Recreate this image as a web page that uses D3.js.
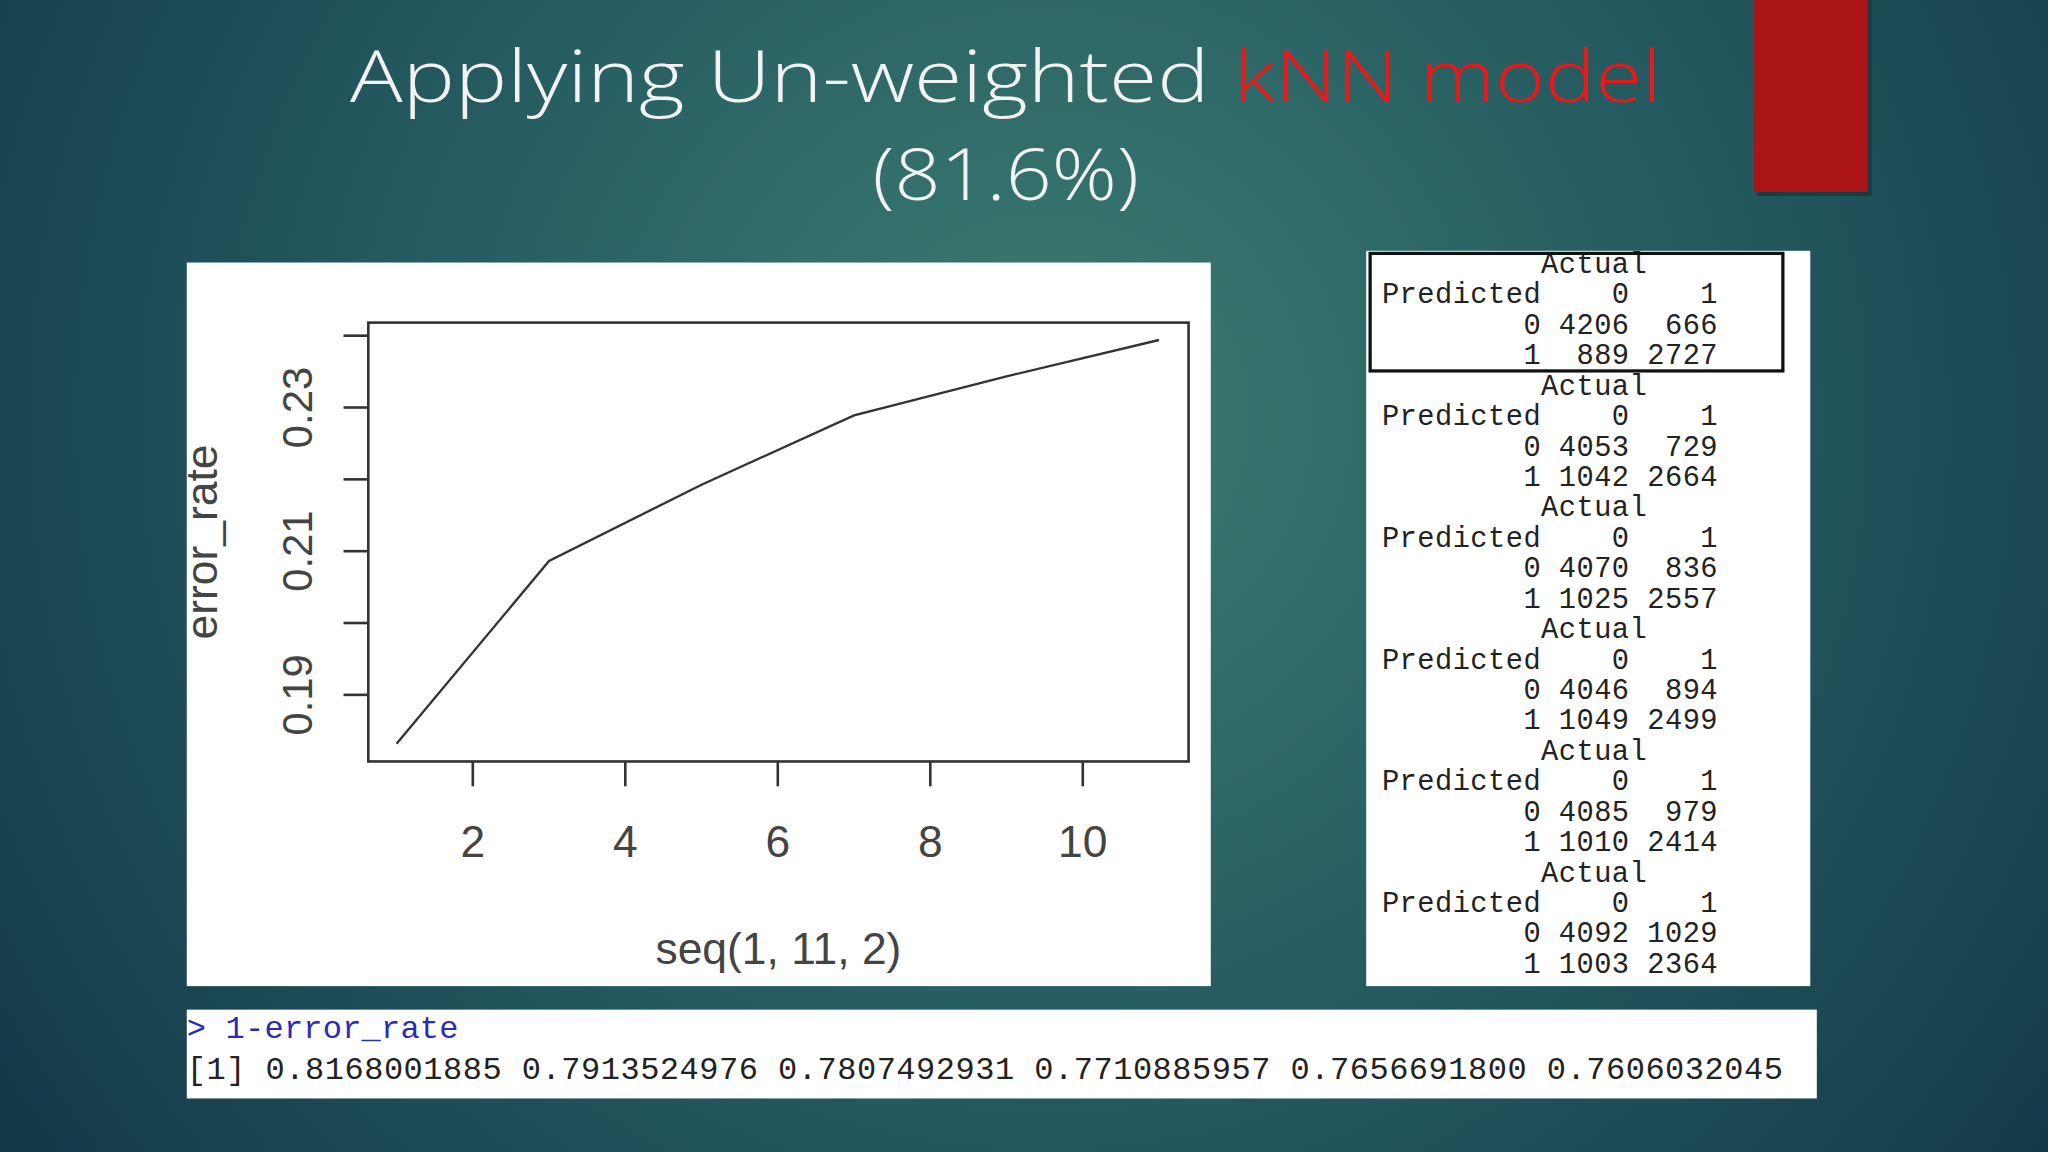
<!DOCTYPE html>
<html><head><meta charset="utf-8">
<script src="https://cdn.jsdelivr.net/npm/d3@7"></script>
<style>body{margin:0;background:#1a4652;overflow:hidden}</style>
</head><body>
<script>
const kValues = [1, 3, 5, 7, 9, 11];
const accuracy = [0.8168001885, 0.7913524976, 0.7807492931, 0.7710885957, 0.7656691800, 0.7606032045];
const errorRate = accuracy.map(a => 1 - a);
const xTicks = [2, 4, 6, 8, 10];
const yTicks = [0.19, 0.20, 0.21, 0.22, 0.23, 0.24];
const yLabels = [0.19, 0.21, 0.23];
const confusion = [
  [4206, 666, 889, 2727],
  [4053, 729, 1042, 2664],
  [4070, 836, 1025, 2557],
  [4046, 894, 1049, 2499],
  [4085, 979, 1010, 2414],
  [4092, 1029, 1003, 2364]
];

const svg = d3.select("body").append("svg")
  .attr("width", 2048).attr("height", 1152).attr("viewBox", "0 0 1568 882");
const defs = svg.append("defs");
const rg = defs.append("radialGradient").attr("id","bg").attr("gradientUnits","userSpaceOnUse")
  .attr("cx",800).attr("cy",320).attr("r",950);
rg.append("stop").attr("offset","0").attr("stop-color","#3d7d72");
rg.append("stop").attr("offset","0.55").attr("stop-color","#24595f");
rg.append("stop").attr("offset","1").attr("stop-color","#143a4a");
svg.append("rect").attr("width",1568).attr("height",882).attr("fill","url(#bg)");
svg.append("rect").attr("x",1345).attr("y",0).attr("width",88).attr("height",150).attr("fill","#0c2a30").attr("opacity",0.5);
svg.append("rect").attr("x",1343).attr("y",0).attr("width",87).attr("height",147).attr("fill","#ab1518");

const tf = s => s.attr("font-family","Open Sans").attr("font-weight",300).attr("font-size",55).attr("lengthAdjust","spacingAndGlyphs");
svg.append("text").attr("x",268).attr("y",78).attr("fill","#f2f2f2").attr("textLength",658).call(tf).text("Applying Un-weighted");
svg.append("text").attr("x",945).attr("y",78).attr("fill","#e8191b").attr("textLength",327).call(tf).text("kNN model");
svg.append("text").attr("x",668).attr("y",153).attr("fill","#f2f2f2").attr("textLength",204).call(tf).text("(81.6%)");

// chart panel
svg.append("rect").attr("x",143).attr("y",201).attr("width",784).attr("height",554).attr("fill","#fff");
const x = d3.scaleLinear().domain([2,10]).range([362,829]);
const y = d3.scaleLinear().domain([0.19,0.23]).range([532,312]);
const g = svg.append("g").attr("font-family","Liberation Sans").attr("fill","#333");
g.append("rect").attr("x",282).attr("y",247).attr("width",628).attr("height",336)
  .attr("fill","none").attr("stroke","#333").attr("stroke-width",2);
g.selectAll(".yt").data(yTicks).join("line").attr("x1",263).attr("x2",282)
  .attr("y1",d=>y(d)).attr("y2",d=>y(d)).attr("stroke","#333").attr("stroke-width",2);
g.selectAll(".xt").data(xTicks).join("line").attr("y1",583).attr("y2",602)
  .attr("x1",d=>x(d)).attr("x2",d=>x(d)).attr("stroke","#333").attr("stroke-width",2);
g.selectAll(".yl").data(yLabels).join("text").attr("text-anchor","middle").attr("font-size",32)
  .attr("transform",d=>`translate(239,${y(d)}) rotate(-90)`).attr("fill","#444").text(d=>d.toFixed(2));
g.selectAll(".xl").data(xTicks).join("text").attr("text-anchor","middle").attr("font-size",34)
  .attr("x",d=>x(d)).attr("y",656).attr("fill","#444").text(d=>d);
g.append("text").attr("text-anchor","middle").attr("font-size",34).attr("fill","#444")
  .attr("transform","translate(166,415) rotate(-90)").text("error_rate");
g.append("text").attr("text-anchor","middle").attr("font-size",34).attr("fill","#444")
  .attr("x",596).attr("y",738).text("seq(1, 11, 2)");
g.append("path").datum(kValues.map((k,i)=>[k,errorRate[i]]))
  .attr("d", d3.line().x(d=>x(d[0])).y(d=>y(d[1])))
  .attr("fill","none").attr("stroke","#333").attr("stroke-width",1.8);

// confusion panel
svg.append("rect").attr("x",1046).attr("y",192).attr("width",340).attr("height",563).attr("fill","#fff");
defs.append("clipPath").attr("id","cpc").append("rect").attr("x",1046).attr("y",192).attr("width",340).attr("height",563);
const cp = svg.append("g").attr("clip-path","url(#cpc)");
const pad = (v,n) => String(v).padStart(n," ");
let lines = [];
confusion.forEach(c => {
  lines.push("         Actual");
  lines.push("Predicted    0    1");
  lines.push("        0 " + pad(c[0],4) + " " + pad(c[1],4));
  lines.push("        1 " + pad(c[2],4) + " " + pad(c[3],4));
});
cp.selectAll("text").data(lines).join("text")
  .attr("x",1058).attr("y",(d,i)=>209+i*23.3).attr("font-family","Liberation Mono")
  .attr("font-size",22).attr("letter-spacing",0.35).attr("fill","#222").style("white-space","pre").text(d=>d);
svg.append("rect").attr("x",1049).attr("y",194).attr("width",316).attr("height",90)
  .attr("fill","none").attr("stroke","#111").attr("stroke-width",2.5);

// console panel
svg.append("rect").attr("x",143).attr("y",773).attr("width",1248).attr("height",68).attr("fill","#fff");
svg.append("text").attr("x",143).attr("y",795).attr("font-family","Liberation Mono").attr("font-size",24.5)
  .attr("fill","#2a2ab8").style("white-space","pre").attr("textLength",208).text("> 1-error_rate");
svg.append("text").attr("x",143).attr("y",826).attr("font-family","Liberation Mono").attr("font-size",24.5)
  .attr("fill","#222").style("white-space","pre").attr("textLength",1222)
  .text("[1] " + accuracy.map(a=>a.toFixed(10)).join(" "));
</script>
</body></html>
